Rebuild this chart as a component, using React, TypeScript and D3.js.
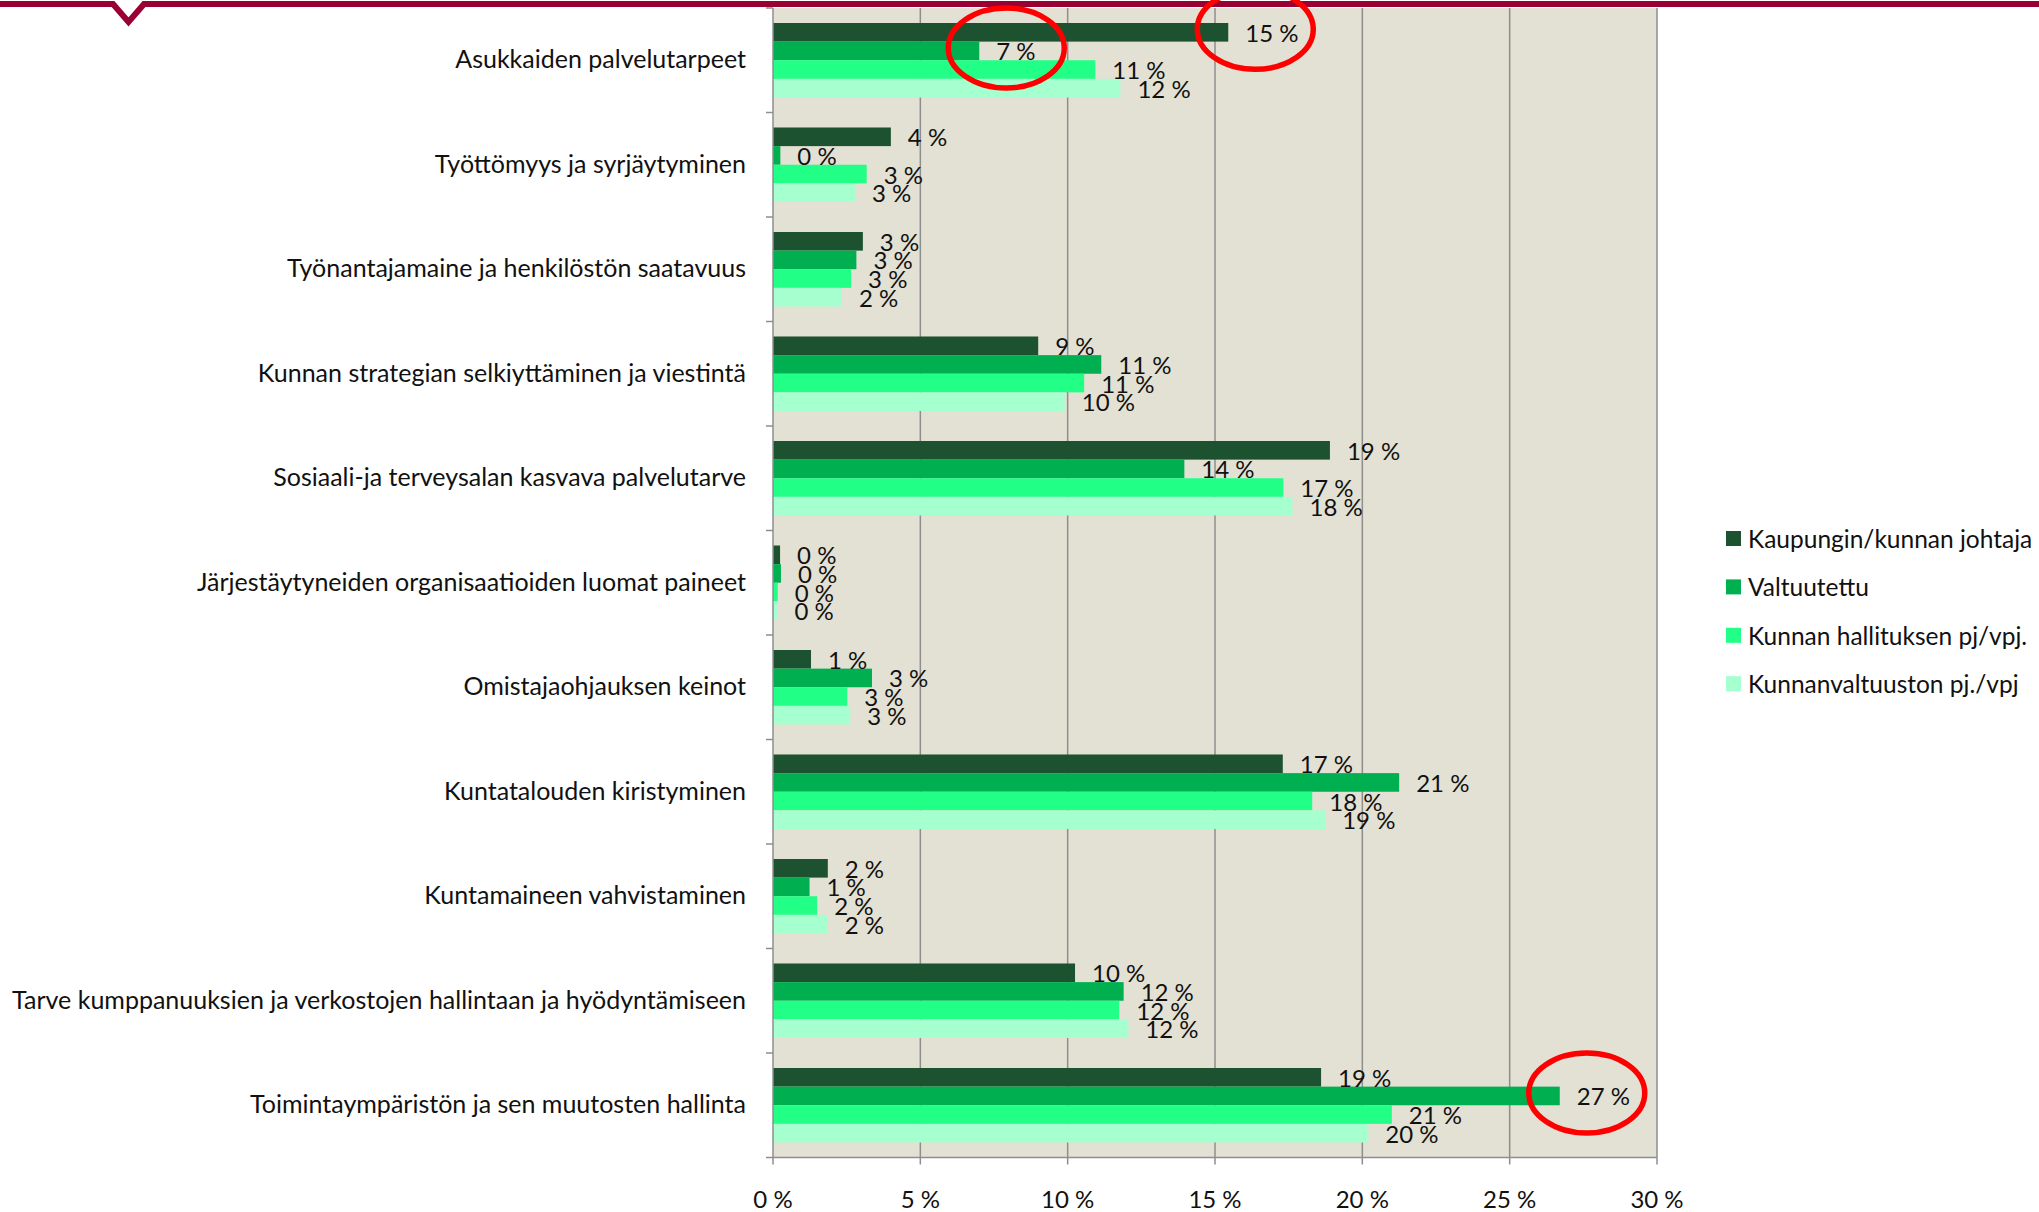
import { useEffect } from 'react';
import * as d3 from 'd3';

const categories = [
  'Asukkaiden palvelutarpeet',
  'Työttömyys ja syrjäytyminen',
  'Työnantajamaine ja henkilöstön saatavuus',
  'Kunnan strategian selkiyttäminen ja viestintä',
  'Sosiaali-ja terveysalan kasvava palvelutarve',
  'Järjestäytyneiden organisaatioiden luomat paineet',
  'Omistajaohjauksen keinot',
  'Kuntatalouden kiristyminen',
  'Kuntamaineen vahvistaminen',
  'Tarve kumppanuuksien ja verkostojen hallintaan ja hyödyntämiseen',
  'Toimintaympäristön ja sen muutosten hallinta',
];

const seriesNames = [
  'Kaupungin/kunnan johtaja',
  'Valtuutettu',
  'Kunnan hallituksen pj/vpj.',
  'Kunnanvaltuuston pj./vpj',
];

const johtaja = [15.45, 4.0, 3.05, 9.0, 18.9, 0.24, 1.29, 17.3, 1.86, 10.25, 18.6];
const valtuutettu = [7.0, 0.25, 2.83, 11.14, 13.96, 0.27, 3.36, 21.25, 1.24, 11.9, 26.7];
const hallitus = [10.94, 3.18, 2.65, 10.56, 17.32, 0.16, 2.52, 18.3, 1.5, 11.75, 21.0];
const valtuusto = [11.79, 2.78, 2.34, 9.9, 17.63, 0.15, 2.62, 18.74, 1.86, 12.06, 20.2];

const xTicks = [0, 5, 10, 15, 20, 25, 30];

// red circles drawn on the original slide: [category index, series index]
const highlights: Array<[number, number]> = [[0, 1], [0, 0], [10, 1]];

const colors = ['#1c5230', '#00b050', '#21ff86', '#a6ffce'];
const FONT = 'Lato, "Open Sans", sans-serif';

const W = 2039;
const H = 1212;
const plot = { left: 773, top: 8, right: 1657, bottom: 1157.5 };

export default function App() {
  useEffect(() => {
    document.body.style.margin = '0';
  }, []);

  const seriesValues = [johtaja, valtuutettu, hallitus, valtuusto];

  const x = d3.scaleLinear().domain([0, 30]).range([plot.left, plot.right]);
  const y0 = d3.scaleBand<number>()
    .domain(categories.map((_, i) => i))
    .range([plot.top, plot.bottom])
    .paddingInner(0.287)
    .paddingOuter(0.1435);
  const y1 = d3.scaleBand<number>()
    .domain(seriesNames.map((_, i) => i))
    .range([0, y0.bandwidth()]);
  const step = y0.step();
  const boundaries = d3.range(categories.length + 1).map(i => plot.top + i * step);

  return (
    <svg width={W} height={H} style={{ display: 'block', background: '#fff' }} fontFamily={FONT}>
      {/* slide header line */}
      <path d="M0,4 H113 L128.5,22 L144,4 H2039" fill="none" stroke="#990033" strokeWidth={6} />

      <rect x={plot.left} y={plot.top} width={plot.right - plot.left} height={plot.bottom - plot.top} fill="#e3e1d3" />

      {/* grid */}
      {xTicks.slice(1).map(t => (
        <line key={t} x1={x(t)} x2={x(t)} y1={plot.top} y2={plot.bottom} stroke="#8e8e8e" strokeWidth={1.5} />
      ))}

      {/* bars */}
      {categories.map((c, ci) => (
        <g key={c} transform={`translate(0,${y0(ci)})`}>
          {seriesValues.map((vals, si) => (
            <rect key={si} x={x(0)} y={y1(si)} width={x(vals[ci]) - x(0)} height={y1.bandwidth()} fill={colors[si]} />
          ))}
          {seriesValues.map((vals, si) => (
            <text key={'l' + si} x={x(vals[ci]) + 17} y={(y1(si) ?? 0) + y1.bandwidth() / 2}
              dominantBaseline="central" fontSize={24} fill="#111">
              {`${Math.round(vals[ci])} %`}
            </text>
          ))}
        </g>
      ))}

      {/* axes */}
      <line x1={plot.left} x2={plot.left} y1={plot.top} y2={plot.bottom} stroke="#8e8e8e" strokeWidth={1.5} />
      <line x1={plot.left} x2={plot.right} y1={plot.bottom} y2={plot.bottom} stroke="#8e8e8e" strokeWidth={1.5} />
      {boundaries.map((b, i) => (
        <line key={'yt' + i} x1={plot.left - 7} x2={plot.left} y1={b} y2={b} stroke="#8e8e8e" strokeWidth={1.5} />
      ))}
      {xTicks.map(t => (
        <g key={'xt' + t}>
          <line x1={x(t)} x2={x(t)} y1={plot.bottom} y2={plot.bottom + 7} stroke="#8e8e8e" strokeWidth={1.5} />
          <text x={x(t)} y={1198} textAnchor="middle" dominantBaseline="central" fontSize={24} fill="#111">
            {`${t} %`}
          </text>
        </g>
      ))}

      {/* category labels */}
      {categories.map((c, ci) => (
        <text key={'c' + ci} x={746} y={(y0(ci) ?? 0) + y0.bandwidth() / 2 - 2} textAnchor="end"
          dominantBaseline="central" fontSize={25} fill="#111">
          {c}
        </text>
      ))}

      {/* highlights */}
      {highlights.map(([ci, si], i) => (
        <ellipse key={'h' + i} cx={x(seriesValues[si][ci]) + 27}
          cy={(y0(ci) ?? 0) + (y1(si) ?? 0) + y1.bandwidth() / 2 - 3}
          rx={58} ry={40} fill="none" stroke="#ff0000" strokeWidth={5.5} />
      ))}

      {/* legend */}
      {seriesNames.map((s, si) => (
        <g key={s} transform={`translate(1726,${538.5 + si * 48.4})`}>
          <rect x={0} y={-7.5} width={15} height={15} fill={colors[si]} />
          <text x={22} y={0} dominantBaseline="central" fontSize={24.5} fill="#111">{s}</text>
        </g>
      ))}
    </svg>
  );
}
